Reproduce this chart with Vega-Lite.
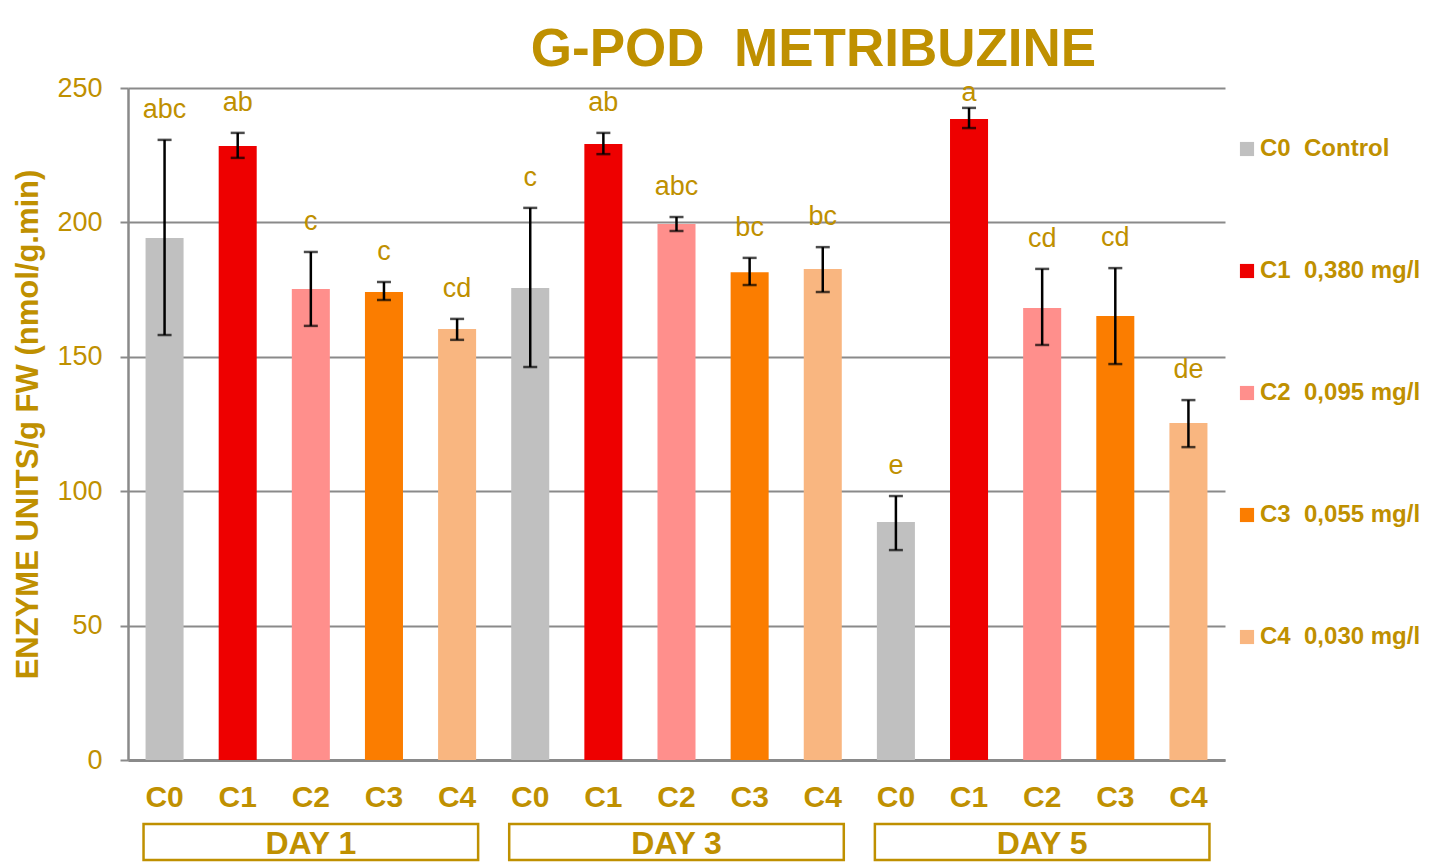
{
  "$schema": "https://vega.github.io/schema/vega-lite/v6.json",
  "background": "white",
  "padding": {"left": 12, "top": 24, "right": 5, "bottom": 2},
  "config": {
    "font": "Liberation Sans",
    "view": {"stroke": null},
    "concat": {"spacing": 10}
  },
  "title": {
    "text": "G-POD\u00a0\u00a0METRIBUZINE",
    "fontSize": 53,
    "fontWeight": "bold",
    "color": "#BF9000",
    "anchor": "middle",
    "frame": "group",
    "dx": 137,
    "offset": -3
  },
  "datasets": {
    "bars": [
      {"cell": "1-C0", "day": "DAY 1", "conc": "C0", "value": 194.2, "lo": 158.1, "hi": 230.7, "letter": "abc"},
      {"cell": "1-C1", "day": "DAY 1", "conc": "C1", "value": 228.4, "lo": 224.0, "hi": 233.3, "letter": "ab"},
      {"cell": "1-C2", "day": "DAY 1", "conc": "C2", "value": 175.2, "lo": 161.5, "hi": 189.0, "letter": "c"},
      {"cell": "1-C3", "day": "DAY 1", "conc": "C3", "value": 174.1, "lo": 171.1, "hi": 177.8, "letter": "c"},
      {"cell": "1-C4", "day": "DAY 1", "conc": "C4", "value": 160.3, "lo": 156.3, "hi": 164.1, "letter": "cd"},
      {"cell": "3-C0", "day": "DAY 3", "conc": "C0", "value": 175.6, "lo": 146.2, "hi": 205.4, "letter": "c"},
      {"cell": "3-C1", "day": "DAY 3", "conc": "C1", "value": 229.2, "lo": 225.4, "hi": 233.3, "letter": "ab"},
      {"cell": "3-C2", "day": "DAY 3", "conc": "C2", "value": 199.4, "lo": 196.8, "hi": 202.0, "letter": "abc"},
      {"cell": "3-C3", "day": "DAY 3", "conc": "C3", "value": 181.5, "lo": 176.7, "hi": 186.8, "letter": "bc"},
      {"cell": "3-C4", "day": "DAY 3", "conc": "C4", "value": 182.7, "lo": 174.1, "hi": 190.8, "letter": "bc"},
      {"cell": "5-C0", "day": "DAY 5", "conc": "C0", "value": 88.5, "lo": 78.1, "hi": 98.2, "letter": "e"},
      {"cell": "5-C1", "day": "DAY 5", "conc": "C1", "value": 238.5, "lo": 235.1, "hi": 242.6, "letter": "a"},
      {"cell": "5-C2", "day": "DAY 5", "conc": "C2", "value": 168.2, "lo": 154.4, "hi": 182.7, "letter": "cd"},
      {"cell": "5-C3", "day": "DAY 5", "conc": "C3", "value": 165.2, "lo": 147.3, "hi": 183.0, "letter": "cd"},
      {"cell": "5-C4", "day": "DAY 5", "conc": "C4", "value": 125.4, "lo": 116.4, "hi": 133.9, "letter": "de"}
    ],
    "days": [
      {"day": "DAY 1"},
      {"day": "DAY 3"},
      {"day": "DAY 5"}
    ]
  },
  "vconcat": [
    {
      "width": 1097,
      "height": 672,
      "data": {"name": "bars"},
      "encoding": {
        "x": {
          "field": "cell",
          "type": "nominal",
          "scale": {"paddingInner": 0.48, "paddingOuter": 0.24},
          "axis": {
            "title": null,
            "labelExpr": "substring(datum.value, 2)",
            "labelAngle": 0,
            "labelFontSize": 30,
            "labelFontWeight": "bold",
            "labelColor": "#BF9000",
            "labelPadding": 22,
            "ticks": false,
            "domainColor": "#8a8a8a",
            "domainWidth": 3,
            "grid": false
          }
        }
      },
      "layer": [
        {
          "mark": {"type": "bar"},
          "encoding": {
            "y": {
              "field": "value",
              "type": "quantitative",
              "scale": {"domain": [0, 250], "nice": false},
              "axis": {
                "values": [0, 50, 100, 150, 200, 250],
                "title": "ENZYME UNITS/g FW (nmol/g.min)",
                "titleFontSize": 31,
                "titleFontWeight": "bold",
                "titleColor": "#BF9000",
                "titlePadding": 12,
                "labelFontSize": 27,
                "labelColor": "#BF9000",
                "labelPadding": 18,
                "tickSize": 8,
                "tickColor": "#8a8a8a",
                "tickWidth": 2,
                "domainColor": "#8a8a8a",
                "domainWidth": 2.5,
                "gridColor": "#8a8a8a",
                "gridWidth": 2
              }
            },
            "color": {
              "field": "conc",
              "type": "nominal",
              "scale": {
                "domain": ["C0", "C1", "C2", "C3", "C4"],
                "range": ["#C0C0C0", "#EE0000", "#FF8F8C", "#FB7D00", "#F9B680"]
              },
              "legend": {
                "title": null,
                "orient": "none",
                "legendX": 1107,
                "legendY": 49,
                "symbolType": "square",
                "symbolSize": 200,
                "symbolStrokeWidth": 0,
                "labelFontSize": 24,
                "labelFontWeight": "bold",
                "labelColor": "#BF9000",
                "labelOffset": 1,
                "labelLimit": 300,
                "rowPadding": 98,
                "labelExpr": "datum.value == 'C0' ? 'C0\u00a0\u00a0Control' : datum.value == 'C1' ? 'C1\u00a0\u00a00,380 mg/l' : datum.value == 'C2' ? 'C2\u00a0\u00a00,095 mg/l' : datum.value == 'C3' ? 'C3\u00a0\u00a00,055 mg/l' : 'C4\u00a0\u00a00,030 mg/l'"
              }
            }
          }
        },
        {
          "mark": {"type": "rule", "color": "black", "strokeWidth": 2.5},
          "encoding": {
            "y": {"field": "lo", "type": "quantitative"},
            "y2": {"field": "hi"}
          }
        },
        {
          "mark": {"type": "tick", "color": "black", "thickness": 2.5, "size": 14, "orient": "horizontal"},
          "encoding": {
            "y": {"field": "lo", "type": "quantitative"}
          }
        },
        {
          "mark": {"type": "tick", "color": "black", "thickness": 2.5, "size": 14, "orient": "horizontal"},
          "encoding": {
            "y": {"field": "hi", "type": "quantitative"}
          }
        },
        {
          "transform": [{"filter": "datum.letter != 'a'"}],
          "mark": {"type": "text", "fontSize": 27, "color": "#BF9000", "dy": -30, "baseline": "middle"},
          "encoding": {
            "y": {"field": "hi", "type": "quantitative"},
            "text": {"field": "letter"}
          }
        },
        {
          "transform": [{"filter": "datum.letter == 'a'"}],
          "mark": {"type": "text", "fontSize": 27, "color": "#BF9000", "dy": -15, "baseline": "middle"},
          "encoding": {
            "y": {"field": "hi", "type": "quantitative"},
            "text": {"field": "letter"}
          }
        }
      ]
    },
    {
      "width": 1097,
      "height": 36,
      "data": {"name": "days"},
      "encoding": {
        "x": {
          "field": "day",
          "type": "nominal",
          "scale": {"paddingInner": 0.085, "paddingOuter": 0.0425},
          "axis": null
        }
      },
      "layer": [
        {
          "mark": {"type": "rect", "fill": "white", "stroke": "#BF9000", "strokeWidth": 2.5}
        },
        {
          "mark": {"type": "text", "fontSize": 32, "fontWeight": "bold", "color": "#BF9000", "baseline": "middle", "dy": 2},
          "encoding": {
            "text": {"field": "day"}
          }
        }
      ]
    }
  ]
}
